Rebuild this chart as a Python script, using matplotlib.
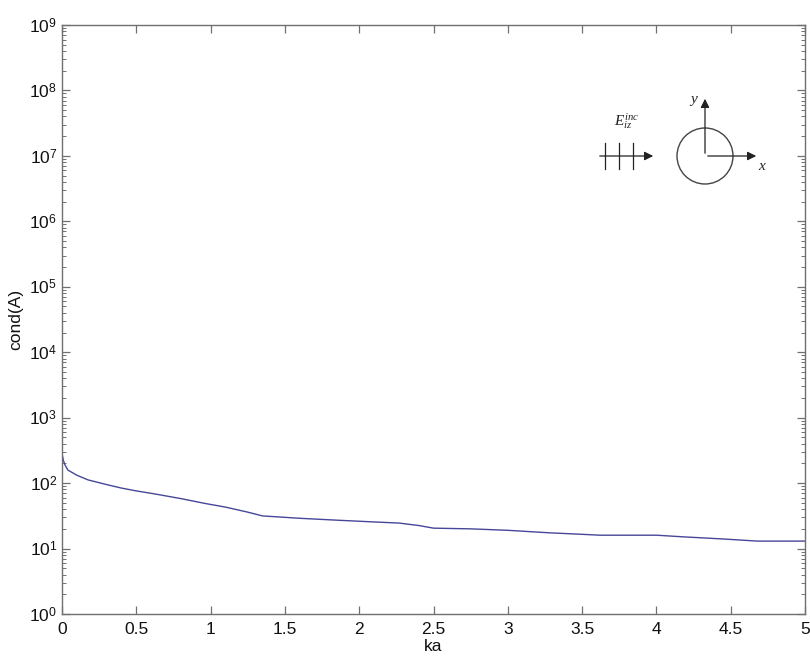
import matplotlib
matplotlib.use("Agg")
import matplotlib.pyplot as plt
from matplotlib.ticker import FixedLocator, NullFormatter
from matplotlib.patches import Circle, FancyArrowPatch

plt.rcParams['font.family'] = ['Liberation Sans', 'DejaVu Sans']
plt.rcParams['mathtext.fontset'] = 'custom'
plt.rcParams['mathtext.rm'] = 'Liberation Sans'
plt.rcParams['mathtext.it'] = 'Liberation Serif:italic'

# condition number of the system matrix versus electrical size ka
ka = [0.0, 0.01, 0.02, 0.04, 0.1, 0.175, 0.3, 0.4, 0.5, 0.63, 0.8, 0.96,
      1.1, 1.25, 1.35, 1.45, 1.6, 1.87, 2.1, 2.27, 2.4, 2.5, 2.75, 3.0,
      3.28, 3.5, 3.62, 4.0, 4.18, 4.45, 4.68, 5.0]
cond_a = [280, 220, 190, 158, 132, 112, 95, 84, 76, 68, 58, 49,
          43, 36, 31.5, 30.5, 29, 27, 25.5, 24.5, 22.5, 20.5, 20, 19,
          17.4, 16.5, 16, 16, 15.1, 14, 13, 13]

x_ticks = [0, 0.5, 1, 1.5, 2, 2.5, 3, 3.5, 4, 4.5, 5]
x_tick_labels = ['0', '0.5', '1', '1.5', '2', '2.5', '3', '3.5', '4', '4.5', '5']
y_exponents = list(range(0, 10))

W, H = 810, 660
fig = plt.figure(figsize=(W / 100, H / 100), dpi=100)
ax = fig.add_axes([62 / W, (H - 614) / H, 743 / W, 589 / H])

ax.semilogy(ka, cond_a, color='#46469a', lw=1.0)
ax.set_xlim(0, 5)
ax.set_ylim(1e0, 1e9)
ax.set_xticks(x_ticks)
ax.set_xticklabels(x_tick_labels)

major_y = [10.0 ** e for e in y_exponents]
minor_y = [m * 10.0 ** e for e in y_exponents[:-1] for m in range(2, 10)]
ax.yaxis.set_major_locator(FixedLocator(major_y))
ax.yaxis.set_minor_locator(FixedLocator(minor_y))
ax.set_yticklabels([r'$10^{%d}$' % e for e in y_exponents])
ax.yaxis.set_minor_formatter(NullFormatter())

edge = '#707070'
for s in ax.spines.values():
    s.set_color(edge)
    s.set_linewidth(1.0)
ax.tick_params(which='both', direction='in', top=True, right=True,
               color=edge, labelsize=12.5, labelcolor='#111111')
ax.tick_params(which='major', length=6, width=0.9)
ax.tick_params(which='minor', length=3, width=0.7)
ax.tick_params(axis='x', pad=6)

ax.set_xlabel('ka', fontsize=12.5, labelpad=1, color='#111111')
ax.set_ylabel('cond(A)', fontsize=12.5, labelpad=4, color='#111111')

# inset sketch: incident plane wave and the cylinder cross-section
ins = fig.add_axes([585 / W, (H - 185) / H, 190 / W, 105 / H])
ins.set_xlim(585, 775)
ins.set_ylim(185, 80)
ins.set_aspect('equal')
ins.axis('off')

gcol = '#222222'
ins.add_patch(FancyArrowPatch((597, 156), (656, 156), arrowstyle='-|>',
                              mutation_scale=13, lw=0.9, color=gcol))
for xv in (605, 619, 633):
    ins.plot([xv, xv], [143, 169], color=gcol, lw=0.9)
ins.text(614, 131, r'$E_{iz}^{inc}$', fontsize=11, color=gcol, ha='left', va='bottom')

ins.add_patch(Circle((705, 156), 28, fill=False, ec='#444444', lw=1.0))
ins.add_patch(FancyArrowPatch((705, 156), (705, 96), arrowstyle='-|>',
                              mutation_scale=13, lw=0.9, color=gcol))
ins.add_patch(FancyArrowPatch((705, 156), (759, 156), arrowstyle='-|>',
                              mutation_scale=13, lw=0.9, color=gcol))
ins.text(694, 101, r'$y$', fontsize=11, color=gcol, ha='center', va='center')
ins.text(762, 166, r'$x$', fontsize=11, color=gcol, ha='center', va='center')

fig.savefig('out.png', dpi=100, facecolor='white')
